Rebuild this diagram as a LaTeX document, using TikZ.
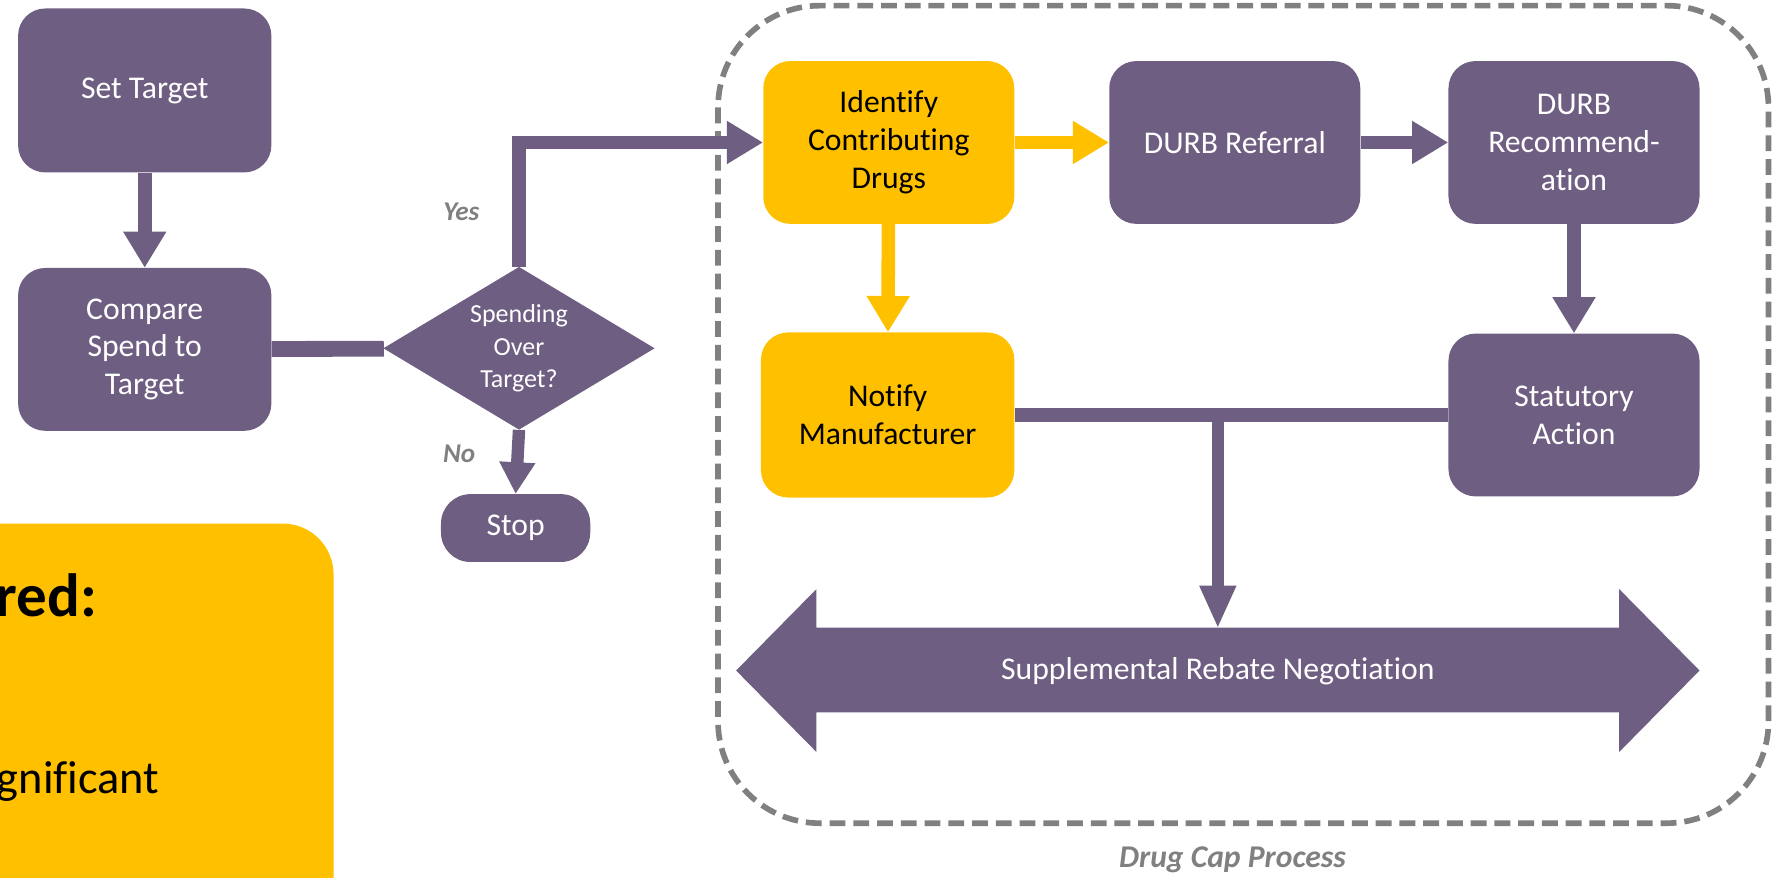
\documentclass[tikz,border=0pt]{standalone}
\usepackage{fontspec}
\setmainfont{Carlito}[Ligatures=NoCommon]
\usetikzlibrary{arrows.meta,shapes.geometric}
\definecolor{pur}{RGB}{110,94,130}
\definecolor{yel}{RGB}{255,192,0}
\definecolor{gry}{RGB}{128,128,128}
\begin{document}
\begin{tikzpicture}[x=1pt,y=-1pt,
  box/.style={fill=pur, rounded corners=24pt, text=white, align=center, inner sep=0pt,
    minimum width=222pt, minimum height=144pt, font=\fontsize{28}{33.5}\selectfont},
  ybox/.style={box, fill=yel, text=black},
  conn/.style={draw=pur, line width=12pt, -{Triangle[width=36pt,length=32pt]}},
  yconn/.style={conn, draw=yel, -{Triangle[width=36pt,length=32pt]}},
  plain/.style={draw=pur, line width=12pt},
  lbl/.style={text=gry, font=\fontsize{24}{28}\selectfont\bfseries\itshape}
]
\useasboundingbox (0,0) rectangle (1568,776);

% left yellow panel (cut off by the page)
\fill[yel, rounded corners=45pt] (-80,463) rectangle (295,840);
\node[anchor=base west, inner sep=0pt, font=\fontsize{54}{60}\selectfont\bfseries] (t1) at (-4,545) {red:};
\node[anchor=base west, inner sep=0pt, font=\fontsize{41}{48}\selectfont] (t2) at (-3,702) {gnificant};

% dashed container
\draw[gry, line width=5pt, dash pattern=on 14pt off 7pt, rounded corners=90pt] (635,5) rectangle (1564,728);
\node[lbl, font=\fontsize{28}{32}\selectfont\bfseries\itshape] (cap) at (1090,760) {Drug Cap Process};

% nodes
\node[box, minimum width=224pt, minimum height=145pt] (set) at (128,80) {Set Target};
\node[box, minimum width=224pt] (cmp) at (128,309) {Compare\\Spend to\\Target};
\node[diamond, fill=pur, text=white, align=center, inner sep=0pt, aspect=1.667,
      minimum width=240pt, minimum height=144pt, font=\fontsize{23}{28.5}\selectfont] (dia) at (459,308) {Spending\\Over\\Target?};
\node[fill=pur, rounded corners=26pt, text=white, inner sep=0pt, minimum width=132pt,
      minimum height=60pt, font=\fontsize{28}{32}\selectfont] (stop) at (456,467) {Stop};

\node[ybox] (ident) at (786,126) {Identify\\Contributing\\Drugs};
\node[box] (ref) at (1092,126) {DURB Referral};
\node[box] (rec) at (1392,126) {DURB\\Recommend-\\ation};
\node[box] (stat) at (1392,367) {Statutory\\Action};
\node[ybox, minimum width=224pt, minimum height=146pt] (notif) at (785,367) {Notify\\Manufacturer};

% big double arrow
\fill[pur] (651,593) -- (722,521) -- (722,555) -- (1432,555) -- (1432,521) -- (1503,593)
  -- (1432,665) -- (1432,630) -- (722,630) -- (722,665) -- cycle;
\node[text=white, inner sep=0pt, minimum width=852pt, minimum height=75pt,
      font=\fontsize{28}{32}\selectfont] (neg) at (1077,593.5) {Supplemental Rebate Negotiation};

% connectors
\draw[conn] (set) -- (cmp);
\draw[plain, line width=14pt] (cmp) -- (dia);
\draw[conn] (dia.north) |- (ident.west);
\draw[conn, line width=11pt, -{Triangle[width=30pt,length=28pt]}] (dia.south) -- (stop.north);
\draw[yconn] (ident) -- (ref);
\draw[conn] (ref) -- (rec);
\draw[conn] (rec) -- (stat);
\draw[yconn] (ident) -- (notif);
\draw[plain] (notif.east) -- (stat.west);
\coordinate (j) at (1077,367);
\draw[conn, line width=11pt, -{Triangle[width=30pt,length=38pt]}] (j) -- (neg.north);

% labels
\node[lbl] (yes) at (408,187) {Yes};
\node[lbl] (no) at (406,401) {No};
\end{tikzpicture}
\end{document}
